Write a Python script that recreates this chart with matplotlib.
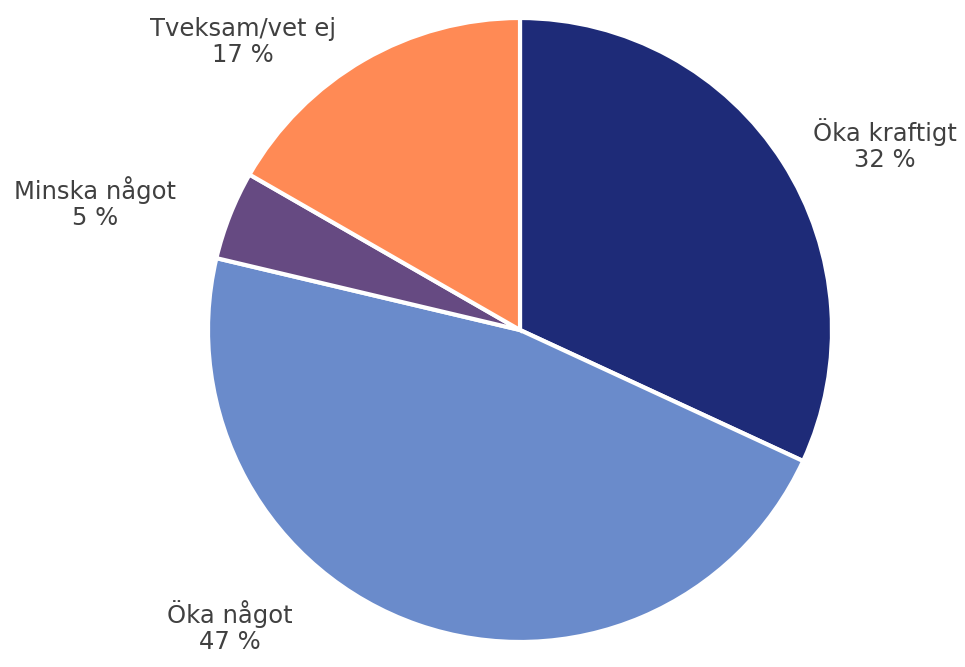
import matplotlib.pyplot as plt

# Shares, labels as printed on the chart
categories = ["Öka kraftigt", "Öka något", "Minska något", "Tveksam/vet ej"]
shares = [31.9, 46.8, 4.6, 16.7]
pct_labels = ["32 %", "47 %", "5 %", "17 %"]
colors = ["#1e2b78", "#6a8bcb", "#664a82", "#ff8a55"]

# label anchor points (pixels, origin bottom-left)
label_pos = [(885, 522), (230, 40), (95, 464), (243, 625)]


def main():
    fig = plt.figure(figsize=(9.65, 6.67), dpi=100)
    ax = fig.add_axes([0, 0, 1, 1])
    ax.set_xlim(0, 965)
    ax.set_ylim(0, 667)
    ax.set_aspect("equal")
    ax.axis("off")

    ax.pie(shares, colors=colors, startangle=90, counterclock=False,
           center=(520, 337), radius=312,
           wedgeprops={"edgecolor": "white", "linewidth": 3})
    ax.set_xlim(0, 965)
    ax.set_ylim(0, 667)

    for name, pct, (x, y) in zip(categories, pct_labels, label_pos):
        ax.text(x, y, name + "\n" + pct, ha="center", va="center",
                fontsize=17.5, color="#404040", family="DejaVu Sans",
                linespacing=1.1)

    fig.savefig("out.png", dpi=100)


if __name__ == "__main__":
    main()
